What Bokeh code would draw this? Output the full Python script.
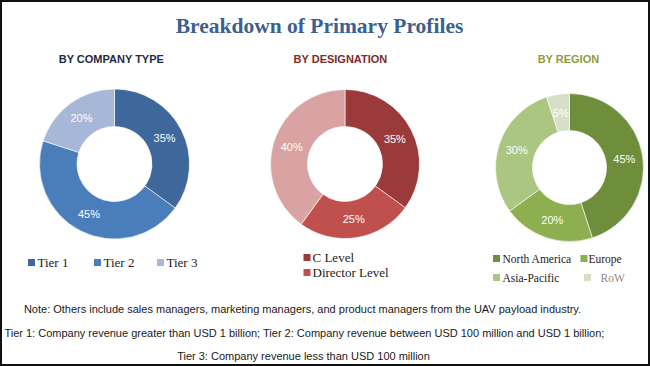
import math
from bokeh.plotting import figure
from bokeh.models import Range1d, ColumnDataSource
from bokeh.core.properties import value
from bokeh.embed import file_html
from bokeh.resources import INLINE

# ---------------- data ----------------
title = "Breakdown of Primary Profiles"

company_title = "BY COMPANY TYPE"
company_cats = ["Tier 1", "Tier 2", "Tier 3"]
company_vals = [35, 45, 20]
company_colors = ["#3E679B", "#4A7EBB", "#A7B7D7"]

design_title = "BY DESIGNATION"
design_cats = ["C Level", "Director Level", "Others"]
design_vals = [35, 25, 40]
design_colors = ["#9A3A3A", "#C0504D", "#D9A3A3"]

region_title = "BY REGION"
region_cats = ["North America", "Europe", "Asia-Pacific", "RoW"]
region_vals = [45, 20, 30, 5]
region_colors = ["#6F8E3B", "#8DAF4F", "#AAC680", "#D6E0C8"]

notes = [
    "Note: Others include sales managers, marketing managers, and product managers from the UAV payload industry.",
    "Tier 1: Company revenue greater than USD 1 billion; Tier 2: Company revenue between USD 100 million and USD 1 billion;",
    "Tier 3: Company revenue less than USD 100 million",
]

# ---------------- layout (page pixels, y measured from top) ----------------
W, H = 650, 366
def Y(py):
    return H - py

p = figure(width=W, height=H, output_backend="svg", toolbar_location=None,
           x_range=Range1d(0, W), y_range=Range1d(0, H),
           x_axis_type=None, y_axis_type=None, min_border=0,
           background_fill_color="white", border_fill_color="white")
p.grid.visible = False
p.outline_line_color = "#111111"
p.outline_line_width = 3

SERIF = value("'Liberation Serif', 'DejaVu Serif', serif")
SANS = value("'Liberation Sans', Arial, sans-serif")

def donut(cx, cy, r_out, r_in, vals, colors):
    starts, ends, lx, ly, labels = [], [], [], [], []
    cum = 0
    for v in vals:
        a0 = math.pi / 2 - 2 * math.pi * cum / 100
        cum += v
        a1 = math.pi / 2 - 2 * math.pi * cum / 100
        starts.append(a0)
        ends.append(a1)
        mid = (a0 + a1) / 2
        rm = (r_out + r_in) / 2
        lx.append(cx + rm * math.cos(mid))
        ly.append(Y(cy) + rm * math.sin(mid))
        labels.append(f"{v}%")
    src = ColumnDataSource(dict(start=starts, end=ends, color=colors))
    p.annular_wedge(x=cx, y=Y(cy), inner_radius=r_in, outer_radius=r_out,
                    start_angle="start", end_angle="end", direction="clock",
                    fill_color="color", line_color="white", line_width=0.6,
                    source=src)
    p.text(x=lx, y=ly, text=labels, text_color="white", text_font=SANS,
           text_font_size="11px", text_align="center", text_baseline="middle")

donut(114, 163.5, 75, 37.5, company_vals, company_colors)
donut(344.5, 163.5, 74.5, 37.5, design_vals, design_colors)
donut(569, 167, 74, 37, region_vals, region_colors)

# title
p.text(x=[319], y=[Y(25)], text=[title], text_color="#3B5F8F",
       text_font=SERIF, text_font_size="21.5px", text_font_style="bold",
       text_align="center", text_baseline="middle")

# section subtitles
p.text(x=[111, 340, 568], y=[Y(58)] * 3,
       text=[company_title, design_title, region_title],
       text_color=["#1E2B45", "#7B2B2B", "#8C9C3C"],
       text_font=SANS, text_font_size="11px", text_font_style="bold",
       text_align="center", text_baseline="middle")

# legends
def legend(items, colors, sq_x, sq_y, tx, size, text_colors=None):
    p.scatter(x=sq_x, y=[Y(v) for v in sq_y], marker="square", size=7,
              fill_color=colors, line_color=None)
    p.text(x=tx, y=[Y(v) for v in sq_y], text=items,
           text_color=text_colors or ["#222222"] * len(items),
           text_font=SERIF, text_font_size=size,
           text_align="left", text_baseline="middle")

legend(company_cats, company_colors, [31, 97, 160], [262, 262, 262], [37, 103, 166], "13px")
legend(design_cats[:2], design_colors[:2], [306.5, 306.5], [257, 272], [312, 312], "13px")
legend(region_cats, region_colors, [496, 583.5, 496, 587], [258, 258, 277, 277],
       [502, 588, 502, 600], "11.5px", ["#222222", "#222222", "#222222", "#8A8A8A"])

# notes
p.text(x=[302, 304, 303], y=[Y(308), Y(332), Y(355)], text=notes,
       text_color="#1A1A1A", text_font=SANS, text_font_size="11px",
       text_align="center", text_baseline="middle")

open("out.html", "w").write(file_html(p, INLINE))
